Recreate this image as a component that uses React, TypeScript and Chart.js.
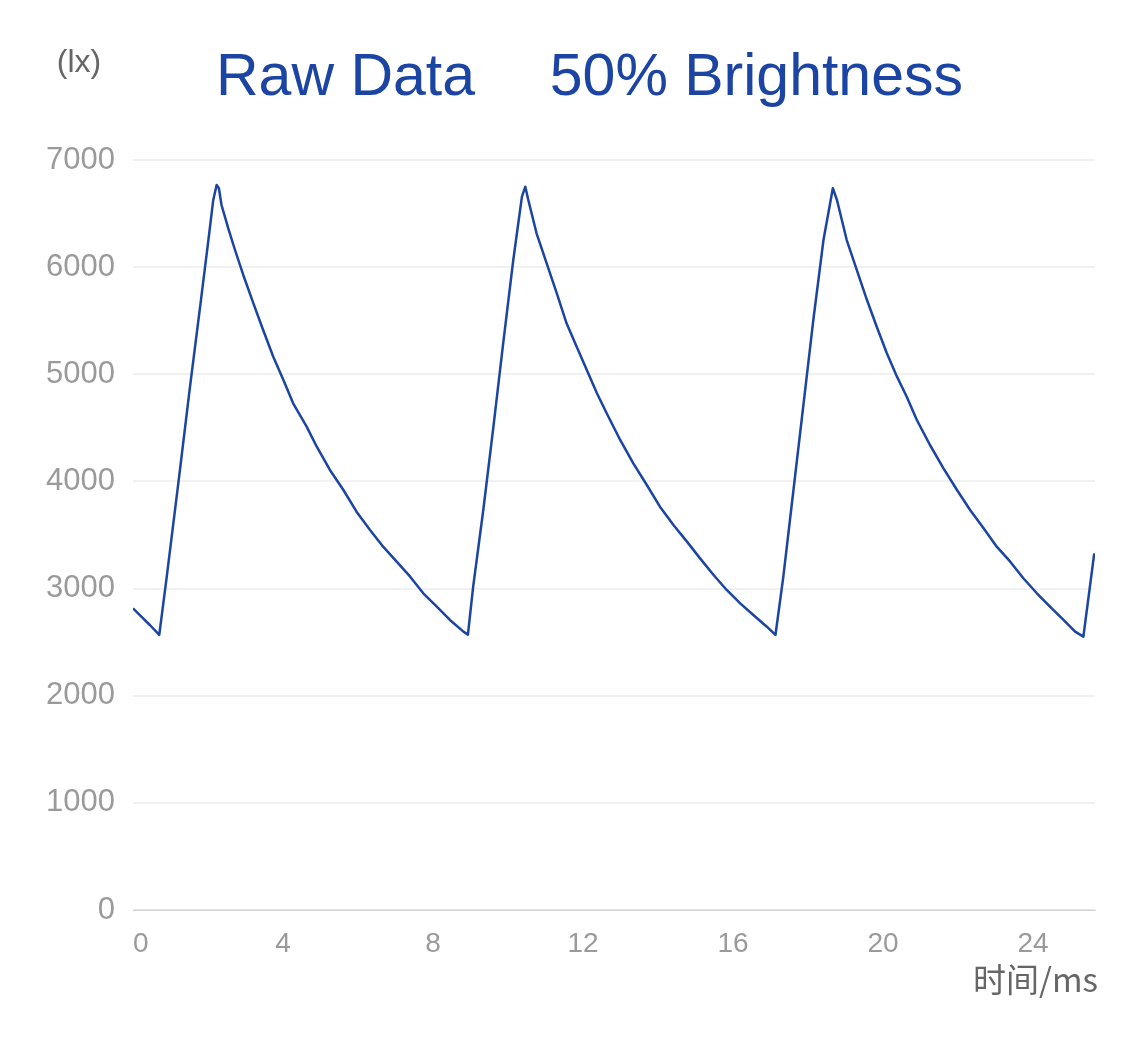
import React, { useEffect, useRef } from "react";
import { Chart, registerables } from "chart.js";

Chart.register(...registerables);

// Time axis (ms) and illuminance (lx)
const timeMs: number[] = [
  0, 0.27, 0.45, 0.7, 0.9, 1.23, 1.52, 1.79, 2.01, 2.14, 2.23, 2.29, 2.36, 2.54, 2.72, 2.94,
  3.21, 3.47, 3.74, 4.01, 4.27, 4.63, 4.9, 5.25, 5.61, 5.96, 6.32, 6.67, 7.03, 7.39, 7.74,
  8.1, 8.45, 8.81, 8.93,
  9.07, 9.34, 9.61, 9.87, 10.14, 10.37, 10.46, 10.54, 10.76, 11.03, 11.3, 11.56, 11.83,
  12.1, 12.37, 12.63, 12.99, 13.34, 13.7, 14.05, 14.41, 14.77, 15.12, 15.48, 15.83, 16.19,
  16.54, 16.9, 17.13,
  17.34, 17.61, 17.87, 18.14, 18.41, 18.66, 18.77, 19.03, 19.3, 19.57, 19.83, 20.1, 20.37,
  20.63, 20.9, 21.25, 21.61, 21.97, 22.32, 22.68, 23.03, 23.39, 23.74, 24.1, 24.45, 24.81,
  25.12, 25.34, 25.63,
];

const luxValues: number[] = [
  2816, 2722, 2660, 2567, 3111, 4044, 4884, 5631, 6253, 6627, 6767, 6736, 6580, 6362, 6160, 5927,
  5662, 5413, 5164, 4947, 4729, 4511, 4324, 4107, 3920, 3718, 3547, 3391, 3251, 3111, 2956,
  2831, 2707, 2598, 2570,
  3018, 3733, 4511, 5289, 6067, 6658, 6751, 6627, 6316, 6036, 5756, 5476, 5258,
  5040, 4823, 4636, 4387, 4169, 3967, 3764, 3593, 3438, 3282, 3127, 2987, 2862,
  2753, 2644, 2567,
  3111, 3920, 4698, 5507, 6253, 6736, 6627, 6253, 5973, 5693, 5444, 5196, 4978,
  4791, 4573, 4340, 4122, 3920, 3733, 3562, 3391, 3251, 3096, 2956, 2831, 2707,
  2598, 2551, 3329,
];

const titleParts: string[] = ["Raw Data", "50% Brightness"];
const yUnitText = "(lx)";
const xUnitText = "时间/ms";

const xMin = 0;
const xMax = 25.65;
const xStep = 4;
const yMin = 0;
const yMax = 7000;
const yStep = 1000;

const BLUE = "#1b44a3";
const LATIN = "'Liberation Sans', Arial, Helvetica, sans-serif";

export default function App() {
  const canvasRef = useRef<HTMLCanvasElement | null>(null);

  useEffect(() => {
    const canvas = canvasRef.current;
    if (!canvas) return;

    const textPlugin = {
      id: "extraText",
      afterDraw(chart: any) {
        const ctx = chart.ctx;
        ctx.save();
        ctx.textBaseline = "alphabetic";
        ctx.fillStyle = BLUE;
        ctx.font = `59px ${LATIN}`;
        ctx.textAlign = "left";
        ctx.fillText(titleParts[0], 216, 95);
        ctx.textAlign = "right";
        ctx.fillText(titleParts[1], 963, 95);

        ctx.fillStyle = "#666666";
        ctx.font = `32px ${LATIN}`;
        ctx.textAlign = "center";
        ctx.fillText(yUnitText, 79, 72);

        ctx.font = `33px 'Noto Sans CJK SC', sans-serif`;
        ctx.textAlign = "right";
        ctx.fillText(xUnitText, 1098, 992);
        ctx.restore();
      },
    };

    const chart = new Chart(canvas, {
      type: "line",
      data: {
        datasets: [
          {
            data: timeMs.map((t, i) => ({ x: t, y: luxValues[i] })),
            borderColor: BLUE,
            borderWidth: 2.5,
            pointRadius: 0,
            tension: 0,
            borderJoinStyle: "round",
            fill: false,
          },
        ],
      },
      options: {
        animation: false,
        responsive: false,
        parsing: false as any,
        layout: { padding: { left: 0, right: 30, top: 160, bottom: 0 } },
        plugins: {
          legend: { display: false },
          tooltip: { enabled: false },
          title: { display: false },
        },
        scales: {
          x: {
            type: "linear",
            min: xMin,
            max: xMax,
            afterFit: (scale: any) => {
              scale.height = 130;
            },
            afterBuildTicks: (scale: any) => {
              scale.ticks.push({ value: scale.max });
            },
            grid: { display: false, drawTicks: false },
            border: { display: true, color: "#d4d4d4", width: 1 },
            ticks: {
              stepSize: xStep,
              includeBounds: false,
              autoSkip: false,
              maxRotation: 0,
              align: "inner",
              padding: 17,
              color: "#9a9a9a",
              font: { family: LATIN, size: 28 },
              callback: (v: any) => (Number(v) % xStep === 0 ? String(v) : ""),
            },
          },
          y: {
            type: "linear",
            min: yMin,
            max: yMax,
            afterFit: (scale: any) => {
              scale.width = 133;
            },
            grid: {
              drawTicks: false,
              color: (c: any) => (c.tick && c.tick.value === 0 ? "#e4e4e4" : "#f1f1f1"),
              lineWidth: 2,
            },
            border: { display: false },
            ticks: {
              stepSize: yStep,
              padding: 18,
              color: "#9a9a9a",
              font: { family: LATIN, size: 31 },
              callback: (v: any) => String(v),
            },
          },
        },
      },
      plugins: [textPlugin],
    });

    return () => {
      chart.destroy();
    };
  }, []);

  return (
    <div style={{ position: "fixed", left: 0, top: 0, width: 1125, height: 1040, background: "#ffffff" }}>
      <canvas ref={canvasRef} width={1125} height={1040} style={{ display: "block" }} />
    </div>
  );
}
